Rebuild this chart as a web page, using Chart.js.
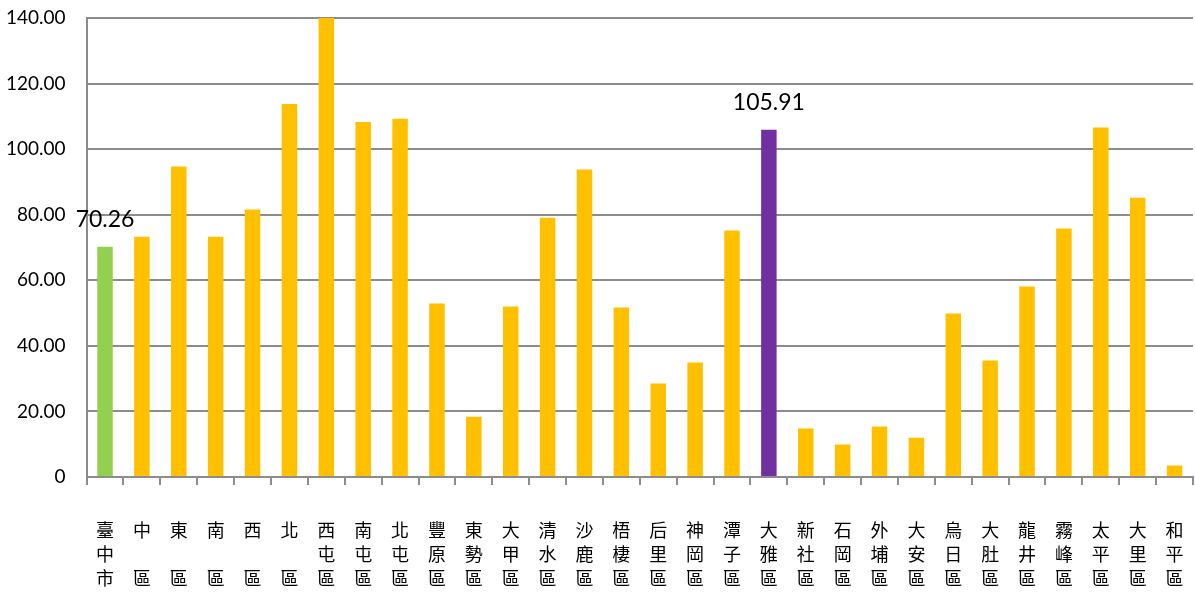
<!DOCTYPE html>
<html>
<head>
<meta charset="utf-8">
<script src="https://cdn.jsdelivr.net/npm/chart.js@4.4.1/dist/chart.umd.min.js"></script>
<style>
  html, body { margin: 0; padding: 0; background: #fff; }
  #wrap { width: 1195px; height: 592px; }
</style>
</head>
<body>
<div id="wrap"><canvas id="grafico"></canvas></div>
<script>
// =====================================================
// DADOS
// =====================================================
const categorias = [
  "臺中市", "中區", "東區", "南區", "西區", "北區", "西屯區", "南屯區", "北屯區", "豐原區",
  "東勢區", "大甲區", "清水區", "沙鹿區", "梧棲區", "后里區", "神岡區", "潭子區", "大雅區", "新社區",
  "石岡區", "外埔區", "大安區", "烏日區", "大肚區", "龍井區", "霧峰區", "太平區", "大里區", "和平區"
];

const valores = [
  70.26, 73.3, 94.7, 73.3, 81.6, 113.8, 145.0, 108.3, 109.3, 52.9,
  18.4, 52.0, 79.1, 93.8, 51.7, 28.5, 34.9, 75.2, 105.91, 14.8,
  9.9, 15.4, 12.0, 49.9, 35.5, 58.1, 75.8, 106.6, 85.2, 3.5
];

const ticksY = [0, 20, 40, 60, 80, 100, 120, 140];

// só estes dois recebem rótulo
const rotulosIndices = [0, 18];

// =====================================================
// HELPERS
// =====================================================
function corBarra(i) {
  if (i === 0) return "#92D050";
  if (i === 18) return "#7030A0";
  return "#FFC000";
}

// texto vertical: 2 caracteres deixam a linha do meio vazia
function labelVertical(nome) {
  const chars = nome.split("");
  if (chars.length === 2) return [chars[0], " ", chars[1]];
  return chars;
}

// zera o espaço extra que as escalas reservam nas bordas
function semPaddingExtra(axis) {
  axis.paddingTop = 0;
  axis.paddingBottom = 0;
  axis.paddingLeft = 0;
  axis.paddingRight = 0;
}

// =====================================================
// PLUGIN — RÓTULOS
// =====================================================
const rotulosPlugin = {
  id: "rotulos",
  afterDatasetsDraw(chart) {
    const ctx = chart.ctx;
    const meta = chart.getDatasetMeta(0);
    ctx.save();
    ctx.font = "23px Lato, 'Liberation Sans', sans-serif";
    ctx.fillStyle = "#000";
    ctx.textAlign = "center";
    ctx.textBaseline = "middle";
    rotulosIndices.forEach(i => {
      const bar = meta.data[i];
      ctx.fillText(valores[i].toFixed(2), bar.x, bar.y - 27);
    });
    ctx.restore();
  }
};

// =====================================================
// GRÁFICO
// =====================================================
new Chart(document.getElementById("grafico"), {
  type: "bar",
  data: {
    labels: categorias.map(labelVertical),
    datasets: [{
      data: valores,
      backgroundColor: valores.map((_, i) => corBarra(i)),
      barPercentage: 0.42,
      categoryPercentage: 1
    }]
  },
  options: {
    responsive: true,
    maintainAspectRatio: false,
    animation: false,
    layout: { padding: { top: 18, right: 2, left: -15, bottom: 0 } },
    plugins: {
      legend: { display: false },
      tooltip: { enabled: false }
    },
    scales: {
      x: {
        afterFit: axis => {
          axis.height = 115;
          semPaddingExtra(axis);
        },
        grid: {
          display: true,
          offset: true,
          drawOnChartArea: false,
          tickLength: 8,
          color: "#8c8c8c",
          lineWidth: 2
        },
        border: { display: true, color: "#8c8c8c", width: 2 },
        ticks: {
          autoSkip: false,
          maxRotation: 0,
          minRotation: 0,
          padding: 33,
          color: "#000",
          font: { family: "'Noto Sans CJK TC', sans-serif", size: 18, lineHeight: "24px" }
        }
      },
      y: {
        min: 0,
        max: 140,
        afterBuildTicks: axis => {
          axis.ticks = ticksY.map(v => ({ value: v }));
        },
        afterFit: semPaddingExtra,
        grid: {
          color: "#8c8c8c",
          lineWidth: 2,
          drawTicks: false
        },
        border: { display: true, color: "#8c8c8c", width: 2 },
        ticks: {
          color: "#000",
          padding: 21,
          font: { family: "Lato, 'Liberation Sans', sans-serif", size: 19 },
          callback: v => (v === 0 ? "0" : Number(v).toFixed(2))
        }
      }
    }
  },
  plugins: [rotulosPlugin]
});
</script>
</body>
</html>
